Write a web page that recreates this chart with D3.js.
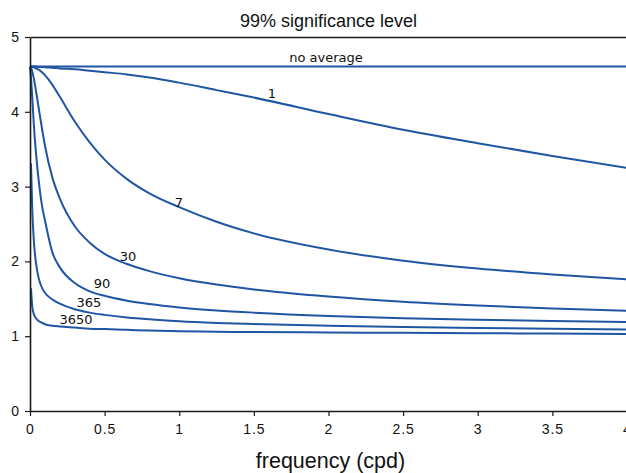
<!DOCTYPE html>
<html>
<head>
<meta charset="utf-8">
<script src="https://cdn.jsdelivr.net/npm/d3@7/dist/d3.min.js"></script>
<style>
  html, body { margin: 0; padding: 0; background: #ffffff; }
  svg { display: block; }
  .tick text { font-family: "Liberation Sans", Arial, sans-serif; font-size: 14px; fill: #111; letter-spacing: 1px; }
  .curve-label { font-family: "DejaVu Sans", sans-serif; font-size: 13px; fill: #111; }
</style>
</head>
<body>
<svg id="chart" width="626" height="473"></svg>
<script>
// Frequency grid (cycles per day) shared by every curve
const freq = [0, 0.0067, 0.015, 0.025, 0.04, 0.06, 0.08, 0.1, 0.15, 0.2, 0.3, 0.4, 0.5,
              0.65, 0.8, 1.0, 1.25, 1.5, 2.0, 2.5, 3.0, 3.5, 4.0];

// 99% significance level for each averaging length (null = not defined at that frequency)
const levelNoAverage = freq.map(() => 4.605);
const level1    = [4.605, 4.605, 4.605, 4.605, 4.604, 4.60, 4.60, 4.595, 4.59, 4.58, 4.57, 4.55, 4.53,
                   4.50, 4.46, 4.39, 4.29, 4.19, 3.97, 3.76, 3.58, 3.41, 3.25];
const level7    = [4.605, 4.605, 4.60, 4.595, 4.58, 4.56, 4.53, 4.49, 4.36, 4.20, 3.87, 3.59, 3.36,
                   3.10, 2.91, 2.725, 2.53, 2.375, 2.16, 2.01, 1.905, 1.825, 1.76];
const level30   = [4.605, 4.59, 4.54, 4.45, 4.28, 4.03, 3.78, 3.55, 3.12, 2.84, 2.47, 2.25, 2.10,
                   1.965, 1.87, 1.775, 1.69, 1.625, 1.53, 1.46, 1.41, 1.37, 1.34];
const level90   = [4.605, 4.45, 4.20, 3.85, 3.45, 3.05, 2.75, 2.55, 2.12, 1.92, 1.71, 1.60, 1.54,
                   1.475, 1.43, 1.385, 1.345, 1.315, 1.27, 1.24, 1.22, 1.203, 1.19];
const level365  = [null, 3.31, 2.70, 2.30, 1.98, 1.76, 1.65, 1.58, 1.49, 1.435, 1.36, 1.315, 1.285,
                   1.25, 1.225, 1.20, 1.178, 1.162, 1.14, 1.123, 1.11, 1.099, 1.09];
const level3650 = [null, 1.64, 1.40, 1.30, 1.24, 1.20, 1.18, 1.16, 1.14, 1.13, 1.115, 1.10, 1.095,
                   1.085, 1.075, 1.065, 1.06, 1.055, 1.05, 1.045, 1.04, 1.035, 1.03];

const seriesNames = ["no average", "1", "7", "30", "90", "365", "3650"];
const seriesLevels = [levelNoAverage, level1, level7, level30, level90, level365, level3650];

// Where each curve's name is written, in data units [frequency, level]
const labelAnchors = [[1.983, 4.722], [1.621, 4.240], [0.998, 2.783], [0.656, 2.060],
                      [0.482, 1.699], [0.395, 1.445], [0.308, 1.217]];

const xTicks = [0, 0.5, 1, 1.5, 2, 2.5, 3, 3.5, 4];
const xTickLabels = ["0", "0.5", "1", "1.5", "2", "2.5", "3", "3.5", "4"];
const yTicks = [0, 1, 2, 3, 4, 5];

const titleText = "99% significance level";
const xAxisTitle = "frequency (cpd)";

const svg = d3.select("#chart");
const margin = { left: 30, top: 37, right: -1, bottom: 62 };
const W = 626, H = 473;

const x = d3.scaleLinear().domain([0, 4]).range([margin.left, W - margin.right]);
const y = d3.scaleLinear().domain([0, 5]).range([H - margin.bottom, margin.top]);

svg.append("rect").attr("width", W).attr("height", H).attr("fill", "#ffffff");

// Curves
const line = d3.line()
  .defined((d) => d[1] !== null)
  .x((d) => x(d[0]))
  .y((d) => y(d[1]))
  .curve(d3.curveMonotoneX);

const color = "#1f56a3";
seriesLevels.forEach((levels) => {
  const pts = freq.map((f, i) => [f, levels[i]]);
  svg.append("path")
    .datum(pts)
    .attr("d", line)
    .attr("fill", "none")
    .attr("stroke", color)
    .attr("stroke-width", 2)
    .attr("stroke-linejoin", "round");
});

// Curve names
seriesNames.forEach((name, i) => {
  svg.append("text")
    .attr("class", "curve-label")
    .attr("x", x(labelAnchors[i][0]))
    .attr("y", y(labelAnchors[i][1]))
    .attr("text-anchor", "middle")
    .attr("dominant-baseline", "central")
    .text(name);
});

// Axes
const xAxis = d3.axisBottom(x)
  .tickValues(xTicks)
  .tickFormat((d, i) => xTickLabels[i])
  .tickSize(5).tickSizeOuter(0).tickPadding(8);
const gx = svg.append("g").attr("transform", `translate(0,${y(0)})`).call(xAxis);

const yAxis = d3.axisLeft(y)
  .tickValues(yTicks)
  .tickFormat(d3.format("d"))
  .tickSize(5).tickSizeOuter(0).tickPadding(5);
const gy = svg.append("g").attr("transform", `translate(${x(0)},0)`).call(yAxis);

const gTop = svg.append("g").attr("transform", `translate(0,${y(5)})`)
  .call(d3.axisTop(x).tickValues([]).tickSizeOuter(0));

[gx, gy, gTop].forEach((g) => {
  g.selectAll(".domain").attr("stroke", "#1a1a1a").attr("stroke-width", 1.6);
  g.selectAll(".tick line").attr("stroke", "#1a1a1a").attr("stroke-width", 1.2);
});

// Title and axis label
svg.append("text")
  .attr("x", (x(0) + x(4)) / 2)
  .attr("y", 27)
  .attr("text-anchor", "middle")
  .style("font-family", "Liberation Sans, Arial, sans-serif")
  .style("font-size", "18px")
  .attr("fill", "#111")
  .text(titleText);

svg.append("text")
  .attr("x", (x(0) + x(4)) / 2 + 2)
  .attr("y", 468)
  .attr("text-anchor", "middle")
  .style("font-family", "Liberation Sans, Arial, sans-serif")
  .style("font-size", "21.5px")
  .attr("fill", "#111")
  .text(xAxisTitle);
</script>
</body>
</html>
